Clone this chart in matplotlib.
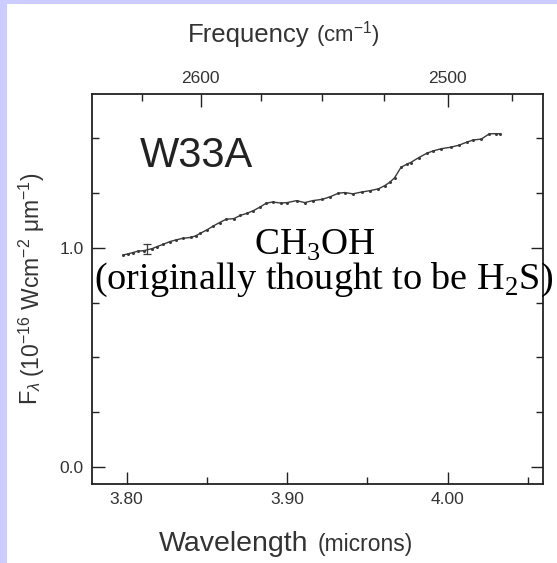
import numpy as np
import matplotlib
matplotlib.use("Agg")
import matplotlib.pyplot as plt
from matplotlib.patches import Rectangle
from matplotlib.ticker import MultipleLocator, FixedLocator, NullFormatter

plt.rcParams['font.family'] = ['Liberation Sans', 'DejaVu Sans']
plt.rcParams['mathtext.fontset'] = 'custom'
plt.rcParams['mathtext.rm'] = 'Liberation Sans'
plt.rcParams['mathtext.it'] = 'Liberation Sans:italic'

# --- DATA ---
wavelength = [3.798, 3.801, 3.804, 3.807, 3.811, 3.816, 3.819, 3.823, 3.827, 3.831,
              3.835, 3.840, 3.843, 3.846, 3.850, 3.854, 3.858, 3.862, 3.867, 3.871,
              3.875, 3.879, 3.883, 3.887, 3.891, 3.896, 3.900, 3.906, 3.911, 3.916,
              3.922, 3.927, 3.932, 3.936, 3.941, 3.947, 3.952, 3.957, 3.961, 3.964,
              3.967, 3.971, 3.975, 3.977, 3.982, 3.987, 3.991, 3.996, 4.002, 4.007,
              4.012, 4.016, 4.021, 4.026, 4.030, 4.033]
flux = [0.968, 0.973, 0.979, 0.985, 0.988, 0.997, 1.006, 1.017, 1.029, 1.037,
        1.044, 1.048, 1.055, 1.067, 1.082, 1.100, 1.116, 1.131, 1.134, 1.149,
        1.158, 1.170, 1.186, 1.204, 1.210, 1.205, 1.207, 1.216, 1.207, 1.216,
        1.222, 1.234, 1.250, 1.253, 1.247, 1.256, 1.262, 1.270, 1.285, 1.300,
        1.320, 1.368, 1.384, 1.390, 1.412, 1.432, 1.443, 1.453, 1.460, 1.469,
        1.483, 1.493, 1.497, 1.521, 1.522, 1.521]
err_wav = [3.813]
err_flux = [0.995]
err_size = [0.022]

x_major = [3.80, 3.90, 4.00]
x_minor = [3.85, 3.95, 4.05]
y_major = [0.0, 1.0]
freq_major = [2600, 2500]
freq_minor = [2625, 2575, 2550, 2525, 2475]

W, H = 557, 563
fig = plt.figure(figsize=(W / 100, H / 100), dpi=100)
fig.patch.set_facecolor('white')

def px(x, y):
    return x / W, 1 - y / H

# lavender frame strips (top and left)
fig.patches.append(Rectangle((0, 1 - 4 / H), 1, 4 / H, transform=fig.transFigure,
                             facecolor='#ccccff', edgecolor='none', zorder=0))
fig.patches.append(Rectangle((0, 0), 7 / W, 1, transform=fig.transFigure,
                             facecolor='#ccccff', edgecolor='none', zorder=0))

ax = fig.add_axes([92 / W, (H - 484) / H, (543 - 92) / W, (484 - 94) / H])
ax.plot(wavelength, flux, color='#3a3a3a', lw=1.0, marker='o', ms=2.2,
        markeredgewidth=0)
ax.errorbar(err_wav, err_flux, yerr=err_size, fmt='none', ecolor='#3a3a3a',
            elinewidth=0.9, capsize=3, capthick=0.9)

ax.set_xlim(3.7785, 4.0595)
ax.set_ylim(-0.078, 1.703)

for s in ax.spines.values():
    s.set_linewidth(1.3)
    s.set_color('#222222')

ax.xaxis.set_major_locator(FixedLocator(x_major))
ax.xaxis.set_minor_locator(FixedLocator(x_minor))
ax.set_xticklabels(['%.2f' % v for v in x_major])
ax.yaxis.set_major_locator(FixedLocator(y_major))
ax.yaxis.set_minor_locator(MultipleLocator(0.25))
ax.set_yticklabels(['%.1f' % v for v in y_major])

ax.tick_params(axis='both', which='both', direction='in', color='#222222',
               labelsize=12.5, labelcolor='#333333')
ax.tick_params(axis='y', which='both', right=True)
ax.tick_params(axis='x', which='both', top=False)
ax.tick_params(which='major', length=9, width=1.0, pad=6)
ax.tick_params(which='minor', length=5, width=1.0)

# frequency axis on top
sec = ax.secondary_xaxis('top', functions=(lambda l: 1e4 / l, lambda f: 1e4 / f))
sec.spines['top'].set_visible(False)
sec.xaxis.set_major_locator(FixedLocator(freq_major))
sec.xaxis.set_minor_locator(FixedLocator(freq_minor))
sec.xaxis.set_minor_formatter(NullFormatter())
sec.set_xticklabels([str(v) for v in freq_major])
sec.tick_params(which='both', direction='in', color='#222222',
                labelsize=12.5, labelcolor='#333333')
sec.tick_params(which='major', length=9, width=1.0, pad=6)
sec.tick_params(which='minor', length=5, width=1.0)

# axis titles
fig.text(*px(309, 42), 'Frequency', fontsize=18.5, color='#333333',
         ha='right', va='baseline')
fig.text(*px(316, 42), r'(cm$^{-1}$)', fontsize=16, color='#333333',
         ha='left', va='baseline')
fig.text(*px(308, 551), 'Wavelength', fontsize=20.5, color='#333333',
         ha='right', va='baseline')
fig.text(*px(318, 551), '(microns)', fontsize=16.5, color='#333333',
         ha='left', va='baseline')
fig.text(*px(37, 405), r'F$_{\lambda}$', fontsize=17, color='#333333',
         rotation=90, ha='left', va='baseline', rotation_mode='anchor')
fig.text(*px(40, 377), r'(10$^{-16}$ Wcm$^{-2}$ μm$^{-1}$)', fontsize=16.5,
         color='#333333', rotation=90, ha='left', va='baseline',
         rotation_mode='anchor')

# labels inside the plot
ax.text(3.8085, 1.37, 'W33A', fontsize=30, color='#222222', ha='left',
        va='baseline')
ax.text(3.9174, 0.968, r'CH$_\mathregular{3}$OH', fontsize=27, color='black',
        family='Liberation Serif', ha='center', va='baseline')
ax.text(3.9227, 0.813, r'(originally thought to be H$_\mathregular{2}$S)',
        fontsize=27.5, color='black', family='Liberation Serif', ha='center',
        va='baseline')

fig.savefig('out.png', dpi=100)
